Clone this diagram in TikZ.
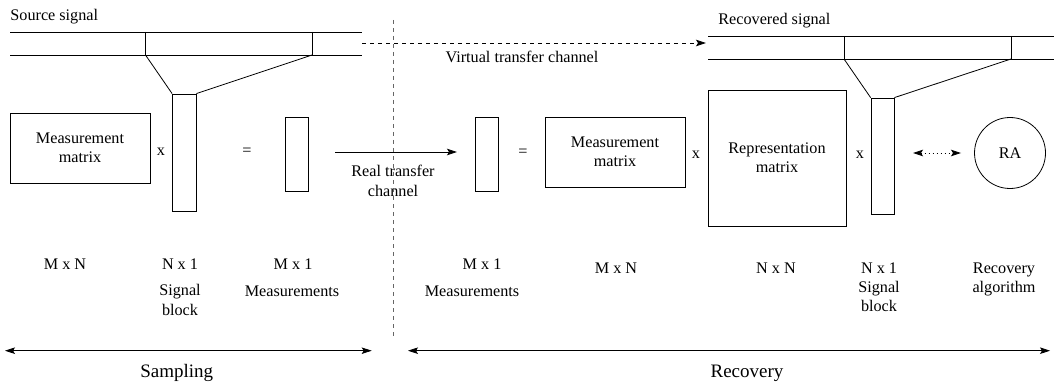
\documentclass[tikz,border=0pt]{standalone}
\usepackage{fontspec}
\setmainfont{Liberation Serif}
\usetikzlibrary{arrows.meta}
\begin{document}
\begin{tikzpicture}[x=1pt,y=-1pt,
  font=\fontsize{16.2}{19.3}\selectfont,
  line width=0.8pt,
  box/.style={draw, inner sep=0pt, align=center},
  lbl/.style={inner sep=0pt, align=center},
  big/.style={inner sep=0pt, font=\fontsize{19}{22}\selectfont},
  tipend/.style={-{Stealth[length=10pt,width=6.5pt,inset=2pt]}},
  tipboth/.style={{Stealth[length=10pt,width=6.5pt,inset=2pt]}-{Stealth[length=10pt,width=6.5pt,inset=2pt]}},
  dashline/.style={dash pattern=on 4pt off 4pt},
  dotline/.style={dash pattern=on 1pt off 3pt}]
\useasboundingbox (0,0) rectangle (1054,385);

% ---------- source signal ----------
\node[lbl, anchor=base west] (src) at (10,20.5) {Source signal};
\coordinate (sa1) at (10,32);   \coordinate (sb1e) at (362,32);
\coordinate (sa2) at (10,55);   \coordinate (sb2e) at (362,55);
\coordinate (sv1t) at (145.5,32); \coordinate (sv1b) at (145.5,55);
\coordinate (sv2t) at (312,32);   \coordinate (sv2b) at (312,55);
\draw (sa1) -- (sb1e);
\draw (sa2) -- (sb2e);
\draw (sv1t) -- (sv1b);
\draw (sv2t) -- (sv2b);

\node[box, minimum width=23.5, minimum height=117] (sbl) at (184.25,152.5) {};
\draw (sv1b) -- (sbl.north west);
\draw (sv2b) -- (sbl.north east);

\node[box, minimum width=140, minimum height=70] (mm1) at (80,148) {Measurement\\matrix};
\node[lbl] (x1) at (161,152) {x};
\node[lbl] (eq1) at (247,152) {=};
\node[box, minimum width=23.5, minimum height=74] (meas1) at (296.75,154) {};

% ---------- channels ----------
\coordinate (rtA) at (335,152);
\coordinate (rtB) at (457,152);
\draw[tipend] (rtA) -- (rtB);
\node[lbl] (rtl) at (393,181) {Real transfer\\channel};

\coordinate (vtA) at (362,43);
\coordinate (vtB) at (706,43);
\draw[tipend, dashline] (vtA) -- (vtB);
\node[lbl, anchor=base] (vtl) at (522,63) {Virtual transfer channel};

\coordinate (divT) at (393.7,20);
\coordinate (divB) at (393.7,338);
\draw[black!60, dashline] (divT) -- (divB);

% ---------- recovery side ----------
\node[box, minimum width=23.3, minimum height=74] (meas2) at (486.7,154) {};
\node[lbl] (eq2) at (523,153) {=};
\node[box, minimum width=140, minimum height=70] (mm2) at (615,152) {Measurement\\matrix};
\node[lbl] (x2) at (696,155) {x};
\node[box, minimum width=138, minimum height=136] (rep) at (777,158) {Representation\\matrix};
\node[lbl] (x3) at (860,155) {x};
\node[box, minimum width=23, minimum height=116] (sbr) at (882.5,156) {};

\node[lbl, anchor=base west] (recs) at (718,25) {Recovered signal};
\coordinate (ra1) at (708,36);   \coordinate (rb1) at (1054,36);
\coordinate (ra2) at (708,59);   \coordinate (rb2) at (1054,59);
\coordinate (rv1t) at (844,36);  \coordinate (rv1b) at (844,59);
\coordinate (rv2t) at (1011,36); \coordinate (rv2b) at (1011,59);
\draw (ra1) -- (rb1);
\draw (ra2) -- (rb2);
\draw (rv1t) -- (rv1b);
\draw (rv2t) -- (rv2b);
\draw (rv1b) -- (sbr.north west);
\draw (rv2b) -- (sbr.north east);

\node[draw, circle, inner sep=0pt, minimum size=71] (ra) at (1010,153) {RA};
\coordinate (daA) at (913,153);
\coordinate (daB) at (961,153);
\draw[tipboth, dotline] (daA) -- (daB);

% ---------- bottom labels ----------
\node[lbl, anchor=base] (l1) at (65,269.5) {M x N};
\node[lbl, anchor=base] (l2) at (180,269.5) {N x 1};
\node[lbl, anchor=base] (l2b) at (180,315) {Signal\\block};
\node[lbl, anchor=base] (l3) at (293,269.5) {M x 1};
\node[lbl, anchor=base] (l3b) at (292,296) {Measurements};
\node[lbl, anchor=base] (l4) at (482,269.5) {M x 1};
\node[lbl, anchor=base] (l4b) at (472,296) {Measurements};
\node[lbl, anchor=base] (l5) at (616,273) {M x N};
\node[lbl, anchor=base] (l6) at (776,273) {N x N};
\node[lbl, anchor=base] (l7) at (879,273) {N x 1};
\node[lbl, anchor=base] (l7b) at (879,311.7) {Signal\\block};
\node[lbl, anchor=base] (l8) at (1004,292.7) {Recovery\\algorithm};

% ---------- phase arrows ----------
\coordinate (spA) at (5,350.7);
\coordinate (spB) at (371.7,350.7);
\draw[tipboth] (spA) -- (spB);
\node[big, anchor=base] (spl) at (176.7,377) {Sampling};
\coordinate (rcA) at (408,350.7);
\coordinate (rcB) at (1050,350.7);
\draw[tipboth] (rcA) -- (rcB);
\node[big, anchor=base] (rcl) at (747,377) {Recovery};
\end{tikzpicture}
\end{document}
